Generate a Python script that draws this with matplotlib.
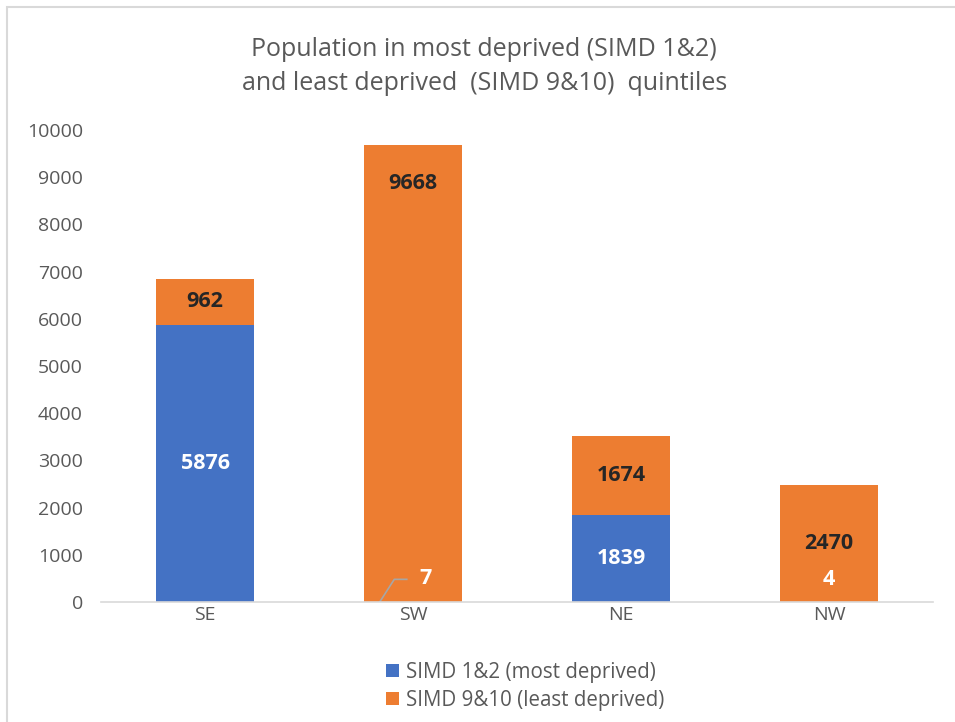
import matplotlib.pyplot as plt
from matplotlib.patches import Rectangle

regions = ['SE', 'SW', 'NE', 'NW']
most_deprived = [5876, 7, 1839, 4]
least_deprived = [962, 9668, 1674, 2470]
legend_labels = ['SIMD 1&2 (most deprived)', 'SIMD 9&10 (least deprived)']
yticks = list(range(0, 10001, 1000))

blue = '#4472c4'
orange = '#ed7d31'
grey = '#595959'

plt.rcParams['font.family'] = ['Open Sans', 'DejaVu Sans']

fig = plt.figure(figsize=(9.55, 7.22), dpi=100)
ax = fig.add_axes([101 / 955, 1 - 602 / 722, 832 / 955, 472 / 722])

x = range(len(regions))
b1 = ax.bar(x, most_deprived, width=0.47, color=blue, label=legend_labels[0])
b2 = ax.bar(x, least_deprived, width=0.47, bottom=most_deprived, color=orange,
            label=legend_labels[1])

ax.set_xlim(-0.5, len(regions) - 0.5)
ax.set_ylim(0, 10000)
ax.set_yticks(yticks)
ax.set_xticks(list(x))
ax.set_xticklabels(regions)
ax.tick_params(axis='both', length=0, colors=grey, labelsize=14)
ax.tick_params(axis='x', pad=3)
ax.tick_params(axis='y', pad=13)
for s in ['top', 'right', 'left']:
    ax.spines[s].set_visible(False)
ax.spines['bottom'].set_color('#d9d9d9')
ax.spines['bottom'].set_linewidth(1.2)

lab = dict(ha='center', va='center', fontsize=15.5, fontweight='bold')

# data labels
for i in x:
    lo = most_deprived[i]
    hi = least_deprived[i]
    if lo > 500:
        ax.text(i, lo / 2, str(lo), color='white', **lab)
        ax.text(i, lo + hi / 2, str(hi), color='#262626', **lab)
    elif hi > 5000:
        ax.text(i, lo + hi - 800, str(hi), color='#262626', **lab)
    else:
        ax.text(i, lo + hi / 2, str(hi), color='#262626', **lab)

# small values near the base
ax.text(1.06, 500, str(most_deprived[1]), color='white', **lab)
ax.plot([0.84, 0.91, 0.97], [0, 480, 480], color='#a6a6a6', lw=1.2)
ax.text(3, 480, str(most_deprived[3]), color='white', **lab)

fig.text(0.507, 0.932, 'Population in most deprived (SIMD 1&2)', ha='center',
         va='center', fontsize=18, color=grey)
fig.text(0.507, 0.884, 'and least deprived  (SIMD 9&10)  quintiles', ha='center',
         va='center', fontsize=18, color=grey)

fig.legend(handles=[b1, b2], labels=legend_labels, loc='upper center',
           bbox_to_anchor=(0.55, 0.098), ncol=1, frameon=False, fontsize=14.8,
           handlelength=0.6, handleheight=0.6, handletextpad=0.35,
           labelspacing=0.35, labelcolor=grey, borderpad=0)

fig.patches.append(Rectangle((7 / 955, -0.01), 1.0, 1 - 7 / 722 + 0.01,
                             transform=fig.transFigure, fill=False,
                             edgecolor='#d9d9d9', lw=1.5))

plt.savefig('out.png', dpi=100)
